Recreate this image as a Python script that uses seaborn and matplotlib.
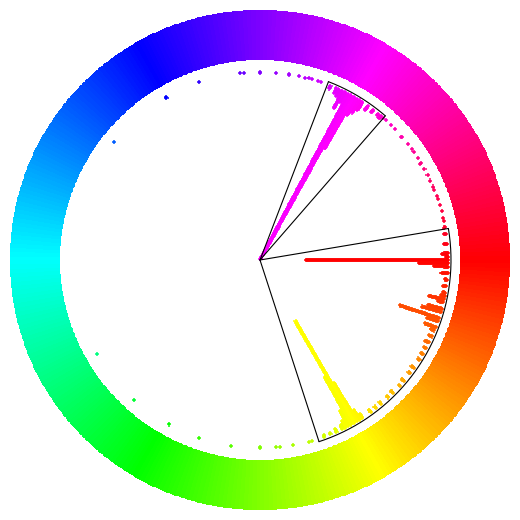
import numpy as np
import pandas as pd
import matplotlib
matplotlib.use("Agg")
import matplotlib.pyplot as plt
from matplotlib.colors import ListedColormap, hsv_to_rgb
import seaborn as sns

# ---- data: hue bins (degrees) and counts (radial length of each bar) ----
hue_bins = [
    # red / orange
    350, 352, 355, 358, 359, 0, 1, 2, 4, 6, 8, 10,
    11, 12, 13, 15, 16, 18, 19, 21, 22, 24, 26, 28, 30,
    32, 35, 37, 40, 42, 45, 47, 50, 52, 54,
    # yellow
    57, 58, 59, 60, 61, 62, 63, 64, 66, 68, 70,
    # green / cyan / blue scatter
    74, 75, 80, 84, 85, 90, 99, 109, 119, 132, 150, 219, 240, 251, 264, 265, 270,
    275, 279, 282, 284, 285, 286, 288, 289,
    # magenta
    292, 294, 295, 296, 297, 298, 299, 300, 301, 302, 303, 305, 307, 309, 310,
    # pink / red scatter
    311, 312, 314, 316, 319, 322, 324, 325, 327, 329, 331, 333, 335, 337, 338, 340,
    341, 343, 345, 347, 348,
]
hue_counts = [
    2, 3, 4, 7, 3, 143, 30, 15, 7, 3, 4, 3,
    5, 16, 6, 15, 20, 42, 12, 12, 5, 4, 5, 3, 3,
    3, 4, 3, 4, 2, 4, 3, 3, 3, 4,
    5, 12, 45, 118, 55, 18, 8, 5, 4, 2, 3,
    1, 1, 1, 1, 1, 2, 1, 1, 1, 1, 1, 1, 2, 1, 1, 1, 2,
    1, 2, 1, 1, 1, 1, 1, 1,
    4, 6, 8, 20, 12, 188, 175, 60, 20, 15, 10, 6, 4, 3, 4,
    1, 1, 1, 1, 2, 1, 1, 1, 1, 2, 1, 1, 1, 1, 1, 1,
    1, 1, 1, 1, 1,
]

# selected hue ranges (start, end) in degrees
wedge_starts = [291, 350.5]
wedge_ends = [311, 432]

# ---- geometry / style ----
R_BASE = 188      # baseline where bars start (pixels from centre)
R_ARC = 191
RING_IN, RING_OUT = 200, 250

hsv_cmap = ListedColormap(hsv_to_rgb(np.stack([np.linspace(0, 1, 360, endpoint=False),
                                               np.ones(360), np.ones(360)], axis=1)))

# expand every bin into stacked "+" markers, one per count step
rows = []
for h, c in zip(hue_bins, hue_counts):
    for k in range(c):
        rows.append((np.deg2rad(h), R_BASE - k, h))
pts = pd.DataFrame(rows, columns=["theta", "r", "hue"])

sns.set_style("white")
fig = plt.figure(figsize=(5.2, 5.2), dpi=100)
ax = fig.add_axes([0, 0, 1, 1], projection="polar")
ax.set_theta_zero_location("E")
ax.set_theta_direction(-1)

# colour wheel ring
th_edges = np.linspace(0, 2 * np.pi, 721)
r_edges = np.array([RING_IN, RING_OUT])
C = np.rad2deg(0.5 * (th_edges[:-1] + th_edges[1:]))[None, :]
ax.pcolormesh(th_edges, r_edges, C, cmap=hsv_cmap, vmin=0, vmax=360,
              shading="flat", antialiased=False, edgecolors="none")

# histogram bars as stacked plus markers
sns.scatterplot(data=pts, x="theta", y="r", hue="hue", palette=hsv_cmap,
                hue_norm=(0, 360), marker="+", s=9, linewidth=1.1,
                legend=False, ax=ax)

# selection wedges
for a0, a1 in zip(wedge_starts, wedge_ends):
    t0, t1 = np.deg2rad(a0), np.deg2rad(a1)
    ax.plot([t0, t0], [0, R_ARC], color="black", lw=0.8)
    ax.plot([t1, t1], [0, R_ARC], color="black", lw=0.8)
    ta = np.linspace(t0, t1, 200)
    ax.plot(ta, np.full_like(ta, R_ARC), color="black", lw=0.8)

ax.set_rlim(0, 260)
ax.set_xlabel("")
ax.set_ylabel("")
ax.axis("off")
fig.savefig("out.png", dpi=100, facecolor="white")
